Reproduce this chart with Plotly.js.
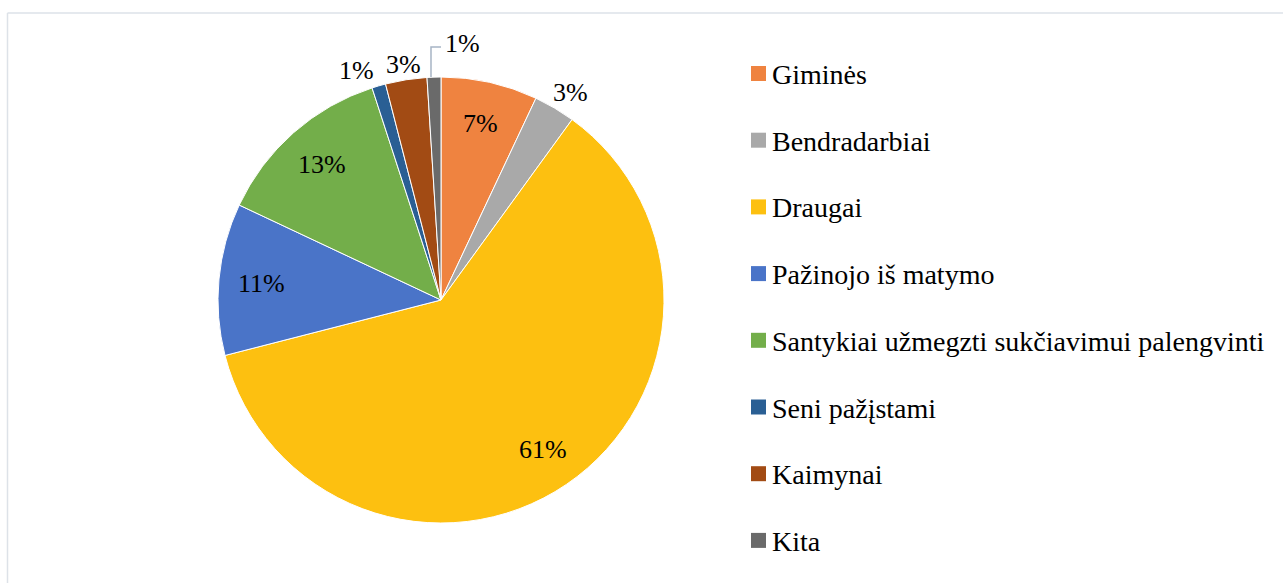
<!DOCTYPE html>
<html>
<head>
<meta charset="utf-8">
<script src="https://cdn.plot.ly/plotly-3.0.1.min.js"></script>
<style>html,body{margin:0;padding:0;background:#fff;}#chart{width:1283px;height:583px;}</style>
</head>
<body>
<div id="chart"></div>
<script>
const categories = ["Giminės", "Bendradarbiai", "Draugai", "Pažinojo iš matymo", "Santykiai užmegzti sukčiavimui palengvinti", "Seni pažįstami", "Kaimynai", "Kita"];
const values = [7, 3, 61, 11, 13, 1, 3, 1];
const colors = ["#EF8340", "#A9A9A9", "#FDC010", "#4A74C8", "#73AE4A", "#2A5F94", "#A24B14", "#6A6A6A"];
const labelModes = ["in", "out", "in", "in", "in", "out", "out", "leader"];

const W = 1283, H = 583;
const font = "Liberation Serif";

// pie geometry in pixels (margins are zero, so paper == pixels)
const cx = 441, cy = 300, r = 223;
const px = x => x / W;
const py = y => 1 - y / H;

const pie = {
  type: "pie",
  labels: categories,
  values: values,
  sort: false,
  direction: "clockwise",
  rotation: 0,
  marker: {colors: colors, line: {color: "#ffffff", width: 1}},
  textinfo: "none",
  domain: {x: [px(cx - r), px(cx + r)], y: [py(cy + r), py(cy - r)]},
  showlegend: false,
  hoverinfo: "label+percent"
};

const shapes = [
  {type: "line", xref: "paper", yref: "paper", x0: px(7.5), x1: 1, y0: py(13), y1: py(13), line: {color: "#DDE2E8", width: 1.5}},
  {type: "line", xref: "paper", yref: "paper", x0: px(7.5), x1: px(7.5), y0: 0, y1: py(13), line: {color: "#DDE2E8", width: 1.5}}
];
const annotations = [];

// slice labels, placed from the data (mid-angle of each slice)
const total = values.reduce((a, b) => a + b, 0);
let cum = 0;
values.forEach((v, i) => {
  const mid = (cum + v / 2) / total;
  cum += v;
  const th = mid * 2 * Math.PI;
  const s = Math.sin(th), c = Math.cos(th);
  const txt = Math.round(v / total * 100) + "%";
  const f = {family: font, size: 26, color: "#000000"};
  if (labelModes[i] === "in") {
    const R = 0.81 * r;
    annotations.push({xref: "paper", yref: "paper", x: px(cx + R * s), y: py(cy - R * c),
      xanchor: "center", yanchor: "middle", text: txt, showarrow: false, font: f});
  } else if (labelModes[i] === "out") {
    const R = r - 1;
    annotations.push({xref: "paper", yref: "paper", x: px(cx + R * s - 3), y: py(cy - R * c),
      xanchor: s > 0.2 ? "left" : (s < -0.2 ? "right" : "center"),
      yanchor: c > 0 ? "bottom" : "top", text: txt, showarrow: false, font: f});
  } else {
    const ex = cx + r * s - 3, ey = cy - r * c;
    const ly = ey - 30;
    shapes.push({type: "path", xref: "paper", yref: "paper",
      path: `M${px(ex)},${py(ey)} L${px(ex)},${py(ly)} L${px(ex + 10)},${py(ly)}`,
      line: {color: "#A7B4C5", width: 1.5}});
    annotations.push({xref: "paper", yref: "paper", x: px(ex + 12), y: py(ly - 4),
      xanchor: "left", yanchor: "middle", text: txt, showarrow: false, font: f});
  }
});

// legend
const legendTop = 73.5, legendStep = 66.7;
categories.forEach((name, i) => {
  const yy = legendTop + i * legendStep;
  shapes.push({type: "rect", xref: "paper", yref: "paper",
    x0: px(751), x1: px(766), y0: py(yy - 7.5), y1: py(yy + 7.5),
    fillcolor: colors[i], line: {width: 0}});
  annotations.push({xref: "paper", yref: "paper", x: px(770), y: py(yy + 1),
    xanchor: "left", yanchor: "middle", text: name, showarrow: false,
    font: {family: font, size: 28, color: "#000000"}});
});

const layout = {
  width: W, height: H,
  margin: {l: 0, r: 0, t: 0, b: 0},
  paper_bgcolor: "#ffffff",
  plot_bgcolor: "#ffffff",
  showlegend: false,
  font: {family: font},
  shapes: shapes,
  annotations: annotations
};

Plotly.newPlot("chart", [pie], layout, {displayModeBar: false, staticPlot: true});
</script>
</body>
</html>
